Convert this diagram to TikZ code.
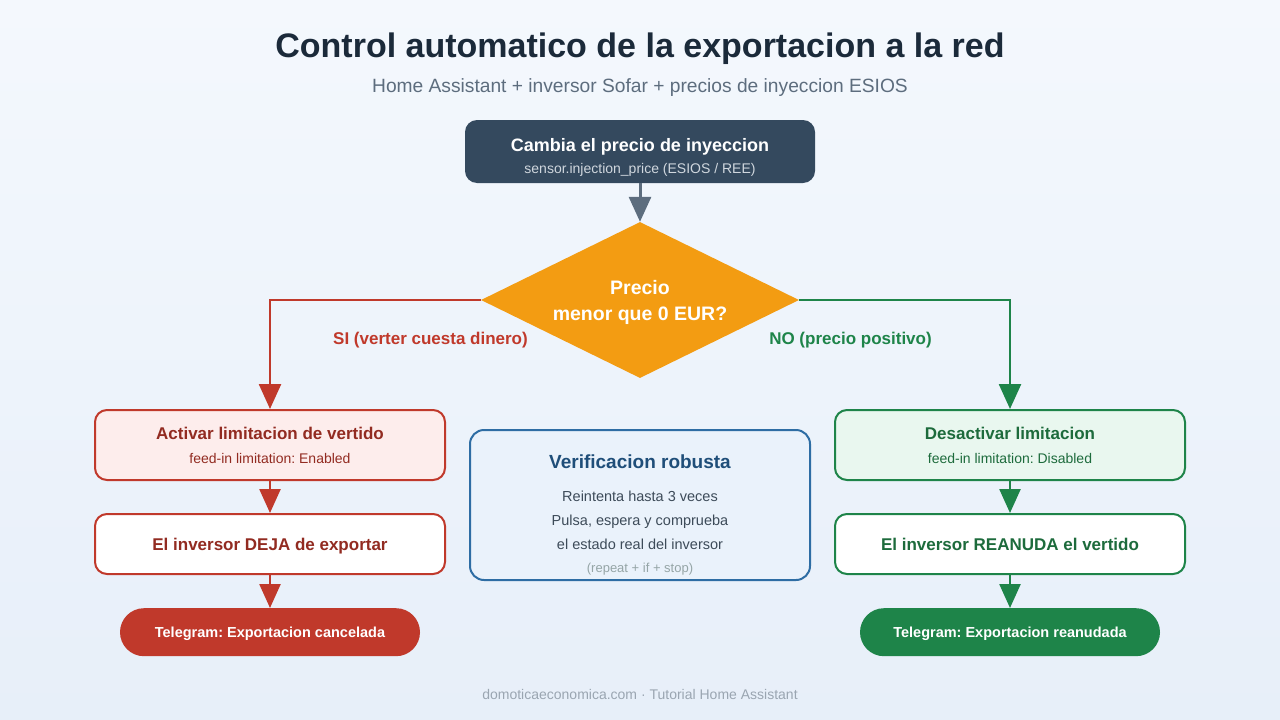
\documentclass[tikz,border=0pt]{standalone}
\usepackage{fontspec}
\setmainfont{Liberation Sans}
\usepackage{xcolor}
\usetikzlibrary{arrows.meta,positioning,shapes.geometric}
\frenchspacing

\definecolor{bgtop}{HTML}{F4F8FD}
\definecolor{bgbot}{HTML}{E7EFF9}
\definecolor{titlecol}{HTML}{1B2A3A}
\definecolor{subcol}{HTML}{5D6D7E}
\definecolor{srcfill}{HTML}{34495E}
\definecolor{srcsub}{HTML}{D0D7DE}
\definecolor{arrowgray}{HTML}{5D6D7E}
\definecolor{decfill}{HTML}{F39C12}
\definecolor{redline}{HTML}{C0392B}
\definecolor{redtext}{HTML}{922B21}
\definecolor{redfill}{HTML}{FDEDEC}
\definecolor{greenline}{HTML}{1E8449}
\definecolor{greentext}{HTML}{1D6B3C}
\definecolor{greenfill}{HTML}{E9F7EF}
\definecolor{blueline}{HTML}{2E6DA4}
\definecolor{bluefill}{HTML}{EAF2FB}
\definecolor{bluetext}{HTML}{1F4E79}
\definecolor{bodytext}{HTML}{3D4B59}
\definecolor{notetext}{HTML}{95A5A6}
\definecolor{footcol}{HTML}{9AA5B1}

\newcommand{\fsz}[2]{\fontsize{#1}{#2}\selectfont}

\begin{document}
\begin{tikzpicture}[
  x=1pt, y=-1pt,
  every node/.style={inner sep=0pt},
  flow/.style={line width=2.5pt, -{Triangle[width=22pt,length=25pt]}},
  shortflow/.style={line width=2.5pt, -{Triangle[width=21pt,length=24pt]}},
  stepbox/.style={
    rectangle, draw, line width=2pt, rounded corners=12pt,
    minimum width=350pt, minimum height=70pt,
    align=center, font=\fsz{14}{24},
  },
  resultbox/.style={stepbox, fill=white, minimum height=60pt,
    text depth=0pt, font=\bfseries\fsz{17}{20}},
  pill/.style={
    rectangle, rounded corners=24pt,
    minimum width=300pt, minimum height=48pt,
    text=white, text depth=0pt, font=\bfseries\fsz{14.5}{17},
  },
  branch/.style={font=\bfseries\fsz{17}{20}, text depth=0pt},
  node distance=32pt,
]
  % background and page size
  \shade[top color=bgtop, bottom color=bgbot] (0,0) rectangle (1280,720);
  \useasboundingbox (0,0) rectangle (1280,720);

  % Heading
  \node[anchor=base, font=\bfseries\fsz{34}{40}, text=titlecol] (title) at (640,57)
    {Control automatico de la exportacion a la red};
  \node[anchor=base, font=\fsz{19.2}{22}, text=subcol] (subtitle) at (640,92.5)
    {Home Assistant + inversor Sofar + precios de inyeccion ESIOS};

  % Trigger
  \node[rectangle, fill=srcfill, rounded corners=12pt,
        minimum width=350pt, minimum height=63pt] (src) at (640,151.5) {};
  \node[anchor=base, font=\bfseries\fsz{18}{22}, text=white] (srctitle) at (640,151)
    {Cambia el precio de inyeccion};
  \node[anchor=base, font=\fsz{14}{17}, text=srcsub] (srcsub) at (640,173)
    {sensor.injection\_price (ESIOS / REE)};

  % Decision
  \node[diamond, fill=decfill, minimum width=318pt, minimum height=156pt, aspect=2,
        align=center, text=white, text depth=0pt, font=\bfseries\fsz{19.5}{26}] (dec) at (640,300)
    {Precio\\menor que 0 EUR?};

  % Left branch
  \node[stepbox, fill=redfill, draw=redline, text=redtext] (act) at (270,445)
    {{\bfseries\fsz{17}{24}Activar limitacion de vertido}\\feed-in limitation: Enabled};
  \node[resultbox, draw=redline, text=redtext, below=of act] (stop)
    {El inversor DEJA de exportar};
  \node[pill, fill=redline, below=33pt of stop] (tgL)
    {Telegram: Exportacion cancelada};

  % Right branch
  \node[stepbox, fill=greenfill, draw=greenline, text=greentext] (deact) at (1010,445)
    {{\bfseries\fsz{17}{24}Desactivar limitacion}\\feed-in limitation: Disabled};
  \node[resultbox, draw=greenline, text=greentext, below=of deact] (resume)
    {El inversor REANUDA el vertido};
  \node[pill, fill=greenline, below=33pt of resume] (tgR)
    {Telegram: Exportacion reanudada};

  % Middle note
  \node[rectangle, draw=blueline, fill=bluefill, line width=2pt, rounded corners=14pt,
        minimum width=340pt, minimum height=150pt] (verify) at (640,505) {};
  \node[align=center, font=\fsz{14.5}{24}, text=bodytext] (verifytxt) at (640,515)
    {{\bfseries\fsz{19}{24}\color{bluetext}Verificacion robusta}\\[8.3pt]
     Reintenta hasta 3 veces\\
     Pulsa, espera y comprueba\\
     el estado real del inversor\\[-0.8pt]
     {\fsz{13}{24}\color{notetext}(repeat + if + stop)}};

  % Branch labels
  \node[branch, text=redline] (silbl) at (430.5,338.5) {SI (verter cuesta dinero)};
  \node[branch, text=greenline] (nolbl) at (850.5,338.5) {NO (precio positivo)};

  % Connectors
  \draw[flow, arrowgray, line width=3pt] (src) -- (dec);
  \draw[flow, redline] (dec.west) -| (act.north);
  \draw[flow, greenline] (dec.east) -| (deact.north);
  \draw[shortflow, redline] (act) -- (stop);
  \draw[shortflow, redline] (stop) -- (tgL);
  \draw[shortflow, greenline] (deact) -- (resume);
  \draw[shortflow, greenline] (resume) -- (tgR);

  % Footer
  \node[anchor=base, font=\fsz{14}{17}, text=footcol] (footer) at (640,699)
    {domoticaeconomica.com · Tutorial Home Assistant};
\end{tikzpicture}
\end{document}
